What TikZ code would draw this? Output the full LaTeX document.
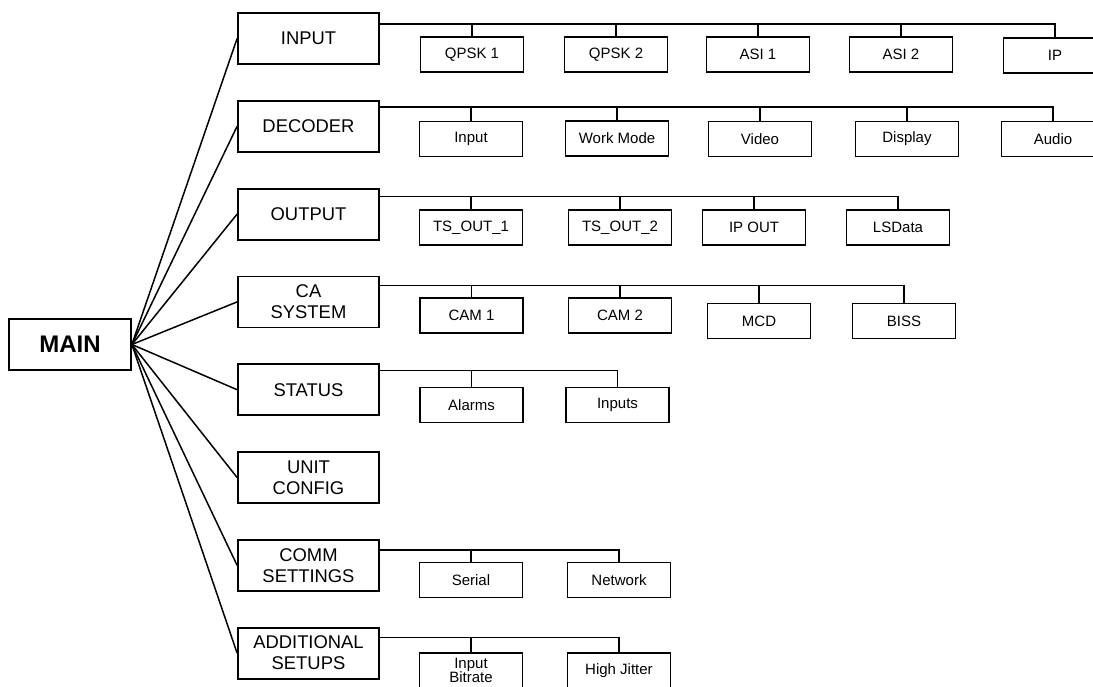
\documentclass[tikz,border=0pt]{standalone}
\usepackage{fontspec}
\setmainfont{Liberation Sans}
\usetikzlibrary{positioning}

\begin{document}
\begin{tikzpicture}[
x=0.5pt, y=-0.5pt,
node distance=17.5pt,
rootbox/.style={draw, line width=0.9pt, font=\fontsize{12}{14}\selectfont\bfseries, minimum width=61pt, minimum height=25.5pt},
menubox/.style={draw, line width=0.9pt, align=center, inner sep=1pt, font=\fontsize{9.2}{10.5}\selectfont, minimum width=70.5pt, minimum height=25.5pt},
itembox/.style={draw, line width=0.9pt, align=center, inner sep=1pt, font=\fontsize{7.5}{7.2}\selectfont, minimum width=51.5pt, minimum height=17.5pt},
link/.style={line width=0.75pt}
]
\useasboundingbox (0,0) rectangle (1093,686);

\node[rootbox] (main) at (70,344.5) {MAIN};

% first level menus
\node[menubox] (inp) at (308.5,38.5) {INPUT};
\node[menubox, below=of inp] (dec) {DECODER};
\node[menubox, below=of dec] (out) {OUTPUT};
\node[menubox, below=of out] (ca) {CA\\SYSTEM};
\node[menubox, below=of ca] (sta) {STATUS};
\node[menubox, below=of sta] (unit) {UNIT\\CONFIG};
\node[menubox, below=of unit] (comm) {COMM\\SETTINGS};
\node[menubox, below=of comm] (add) {ADDITIONAL\\SETUPS};

\draw[link] (main.east) -- (inp.west);
\draw[link] (main.east) -- (dec.west);
\draw[link] (main.east) -- (out.west);
\draw[link] (main.east) -- (ca.west);
\draw[link] (main.east) -- (sta.west);
\draw[link] (main.east) -- (unit.west);
\draw[link] (main.east) -- (comm.west);
\draw[link] (main.east) -- (add.west);

% input
\node[itembox] (qpsk1) at (472,54.5) {QPSK 1};
\node[itembox] (qpsk2) at (616,54.5) {QPSK 2};
\node[itembox] (asi1) at (758,54.5) {ASI 1};
\node[itembox] (asi2) at (901,54.5) {ASI 2};
\node[itembox] (ip) at (1055,55.5) {IP};
\coordinate (inpbus) at ([yshift=-6pt]inp.north east);
\draw[link] (inpbus) -| (ip.north);
\draw[link] (qpsk1.north) -- (qpsk1.north |- inpbus);
\draw[link] (qpsk2.north) -- (qpsk2.north |- inpbus);
\draw[link] (asi1.north) -- (asi1.north |- inpbus);
\draw[link] (asi2.north) -- (asi2.north |- inpbus);

% decoder
\node[itembox] (decin) at (471,139) {Input};
\node[itembox] (work) at (617,138.5) {Work Mode};
\node[itembox] (video) at (760,139) {Video};
\node[itembox] (disp) at (907,139) {Display};
\node[itembox] (audio) at (1053,139) {Audio};
\coordinate (decbus) at ([yshift=-3.5pt]dec.north east);
\draw[link] (decbus) -| (audio.north);
\draw[link] (decin.north) -- (decin.north |- decbus);
\draw[link] (work.north) -- (work.north |- decbus);
\draw[link] (video.north) -- (video.north |- decbus);
\draw[link] (disp.north) -- (disp.north |- decbus);

% output
\node[itembox] (ts1) at (471,227.5) {TS\_OUT\_1};
\node[itembox] (ts2) at (620,227.5) {TS\_OUT\_2};
\node[itembox] (ipout) at (754,227.5) {IP OUT};
\node[itembox] (lsd) at (898,227.5) {LSData};
\coordinate (outbus) at ([yshift=-4.5pt]out.north east);
\draw[link] (outbus) -| (lsd.north);
\draw[link] (ts1.north) -- (ts1.north |- outbus);
\draw[link] (ts2.north) -- (ts2.north |- outbus);
\draw[link] (ipout.north) -- (ipout.north |- outbus);

% ca system
\node[itembox] (cam1) at (471.5,315.5) {CAM 1};
\node[itembox] (cam2) at (620,315.5) {CAM 2};
\node[itembox] (mcd) at (759,321) {MCD};
\node[itembox] (biss) at (904,321) {BISS};
\coordinate (cabus) at ([yshift=-5pt]ca.north east);
\draw[link] (cabus) -| (biss.north);
\draw[link] (cam1.north) -- (cam1.north |- cabus);
\draw[link] (cam2.north) -- (cam2.north |- cabus);
\draw[link] (mcd.north) -- (mcd.north |- cabus);

% status
\node[itembox] (alarm) at (471.5,405) {Alarms};
\node[itembox] (stin) at (617.5,405) {Inputs};
\coordinate (stabus) at ([yshift=-3.5pt]sta.north east);
\draw[link] (stabus) -| (stin.north);
\draw[link] (alarm.north) -- (alarm.north |- stabus);

% comm settings
\node[itembox] (serial) at (471,580) {Serial};
\node[itembox] (net) at (619,580) {Network};
\coordinate (commbus) at ([yshift=-5.5pt]comm.north east);
\draw[link] (commbus) -| (net.north);
\draw[link] (serial.north) -- (serial.north |- commbus);

% additional setups
\node[itembox] (bitrate) at (471,670.5) {Input\\Bitrate};
\node[itembox] (jitter) at (619,670.5) {High Jitter};
\coordinate (addbus) at ([yshift=-5.5pt]add.north east);
\draw[link] (addbus) -| (jitter.north);
\draw[link] (bitrate.north) -- (bitrate.north |- addbus);
\end{tikzpicture}
\end{document}
